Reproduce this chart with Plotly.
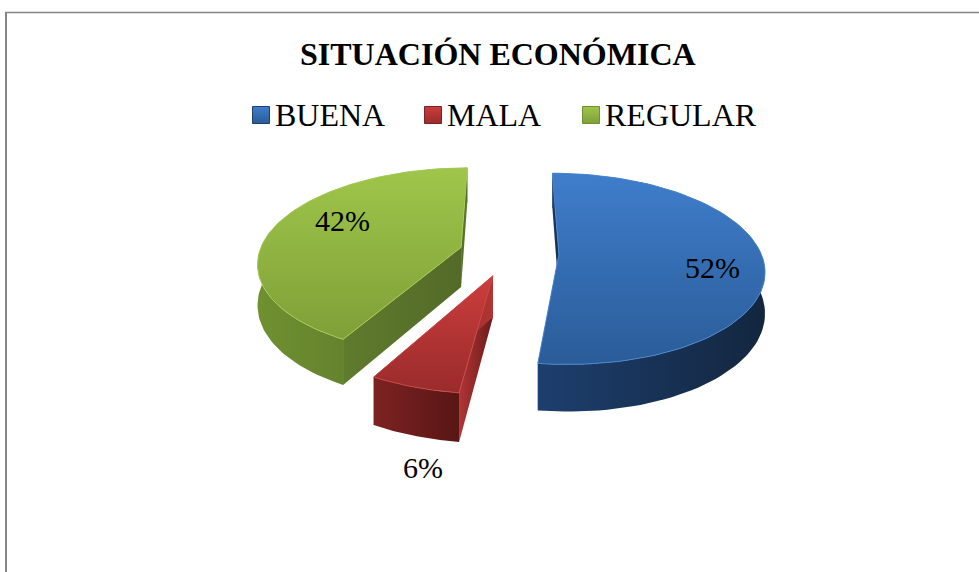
import numpy as np
import plotly.graph_objects as go

TITLE = "SITUACIÓN ECONÓMICA"
CATEGORIES = ["BUENA", "MALA", "REGULAR"]
VALUES = [52, 6, 42]

FONT = "Liberation Serif"
W, H = 979, 572

# 3D pie projection settings
CX, CY = 509, 253
AX, AY = 202, 93
PERSPECTIVE = 0.15
EXPLODE = 0.247
DEPTH = 40

STYLES = {
    "BUENA": dict(top=["#2a5c98", "#3f7dcb"], wall=["#1d3f6e", "#13263f"], face=["#1c3a63", "#162c4c"], edge="#4a86d0", label=(712, 267)),
    "MALA": dict(top=["#9a2b2b", "#cc3d3d"], wall=["#7d2222", "#581615"], face=["#b23434", "#6a1c1b"], edge="#c94a4a", label=(423, 467)),
    "REGULAR": dict(top=["#7f9f38", "#9fc64a"], wall=["#6f9030", "#56702a"], face=["#5f7b2d", "#546a28"], edge="#a6cb55", label=(342, 220)),
}
LEGEND_X = [261, 433, 591]
LEGEND_TEXT_X = [275, 447, 605]
LEGEND_Y = 115


def project(x, y):
    w = 1 + PERSPECTIVE * y
    return CX + AX * x / w, CY - AY * y / w, w


def poly(xs, ys, colors, kind, name):
    return go.Scatter(
        x=list(xs) + [xs[0]], y=list(ys) + [ys[0]], mode="lines", fill="toself",
        line=dict(width=0, color=colors[0]), name=name, showlegend=False, hoverinfo="skip",
        fillgradient=dict(type=kind, colorscale=[[0, colors[0]], [1, colors[1]]]),
    )


fig = go.Figure()
total = sum(VALUES)
start = 0.0
for cat, val in zip(CATEGORIES, VALUES):
    st = STYLES[cat]
    sweep = 360.0 * val / total
    mid = np.radians(start + sweep / 2)
    ox, oy = EXPLODE * np.sin(mid), EXPLODE * np.cos(mid)
    ang = np.radians(np.linspace(start, start + sweep, 90))
    ax_, ay_, aw = project(ox + np.sin(ang), oy + np.cos(ang))
    px, py, pw = project(np.array([ox]), np.array([oy]))
    px, py, pw = float(px[0]), float(py[0]), float(pw[0])
    low = ay_ + DEPTH / aw
    plow = py + DEPTH / pw

    # radial walls
    fig.add_trace(poly([px, ax_[0], ax_[0], px], [py, ay_[0], low[0], plow], st["face"], "horizontal", cat))
    fig.add_trace(poly([px, ax_[-1], ax_[-1], px], [py, ay_[-1], low[-1], plow], st["face"][::-1], "horizontal", cat))
    # outer wall
    fig.add_trace(poly(list(ax_) + list(ax_[::-1]), list(ay_) + list(low[::-1]), st["wall"], "horizontal", cat))
    # top surface
    top = poly([px] + list(ax_), [py] + list(ay_), st["top"], "vertical", cat)
    top.line = dict(width=1, color=st["edge"])
    fig.add_trace(top)
    start += sweep

# legend entries
for cat, lx, tx in zip(CATEGORIES, LEGEND_X, LEGEND_TEXT_X):
    st = STYLES[cat]
    fig.add_trace(go.Scatter(
        x=[lx], y=[LEGEND_Y], mode="markers", name=cat, showlegend=False, hoverinfo="skip",
        marker=dict(symbol="square", size=17, color=st["top"][1], line=dict(width=1, color=st["wall"][0]),
                    gradient=dict(type="vertical", color=st["top"][0])),
    ))
    fig.add_annotation(x=tx, y=LEGEND_Y, text=cat, showarrow=False, xref="x", yref="y", xanchor="left",
                       borderpad=0, borderwidth=0,
                       font=dict(family=FONT, size=32, color="#000000"))

for cat, val in zip(CATEGORIES, VALUES):
    lx, ly = STYLES[cat]["label"]
    fig.add_annotation(x=lx, y=ly, text=f"{val}%", showarrow=False, xref="x", yref="y",
                       font=dict(family=FONT, size=30, color="#000000"))

fig.add_annotation(x=498, y=54, text=f"<b>{TITLE}</b>", showarrow=False, xref="x", yref="y",
                   font=dict(family=FONT, size=32, color="#000000"))

frame = dict(color="#868686", width=2)
fig.add_shape(type="line", x0=6, x1=6, y0=12, y1=H, line=frame, xref="x", yref="y")
fig.add_shape(type="line", x0=5, x1=W, y0=12.5, y1=12.5, line=dict(color="#868686", width=1.5), xref="x", yref="y")

fig.update_layout(
    width=W, height=H, margin=dict(l=0, r=0, t=0, b=0), showlegend=False,
    paper_bgcolor="#ffffff", plot_bgcolor="#ffffff",
    xaxis=dict(range=[0, W], visible=False, fixedrange=True),
    yaxis=dict(range=[H, 0], visible=False, fixedrange=True),
)
fig.write_html("out.html", config=dict(displayModeBar=False),
               post_script="document.body.style.margin='0';document.body.style.overflow='hidden';")
